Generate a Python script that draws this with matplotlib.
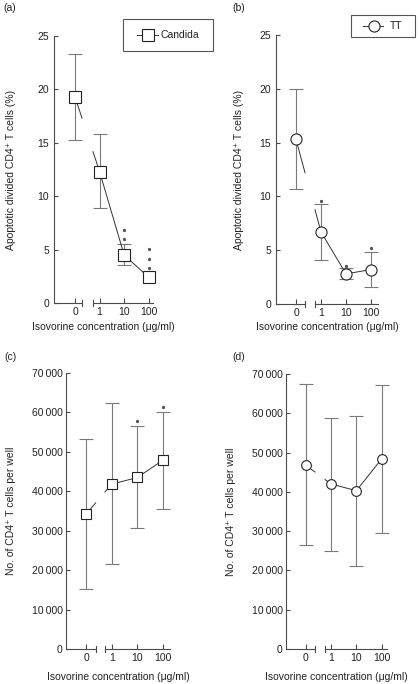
import numpy as np
import matplotlib
matplotlib.use("Agg")
import matplotlib.pyplot as plt
from matplotlib.lines import Line2D
from matplotlib.patches import Rectangle

plt.rcParams['font.family'] = ['Liberation Sans', 'DejaVu Sans']

W, H = 419, 684  # figure size in pixels

conc_labels = ['0', '1', '10', '100']
x_pos = np.arange(4)

# (a) apoptotic divided CD4+ T cells (%), Candida
candida_apop = [19.3, 12.3, 4.5, 2.4]
candida_apop_hi = [23.3, 15.8, 5.5, np.nan]
candida_apop_lo = [15.3, 8.9, 3.6, np.nan]
candida_apop_stars = [[], [], [6.8, 6.0], [5.1, 4.1, 3.3]]

# (b) apoptotic divided CD4+ T cells (%), TT
tt_apop = [15.3, 6.7, 2.8, 3.2]
tt_apop_hi = [20.0, 9.3, 3.3, 4.8]
tt_apop_lo = [10.7, 4.1, 2.3, 1.6]
tt_apop_stars = [[], [9.6], [3.5], [5.2]]

# (c) no. of CD4+ T cells per well, Candida
candida_count = [34200, 41800, 43500, 47900]
candida_count_hi = [53300, 62300, 56600, 60200]
candida_count_lo = [15300, 21600, 30800, 35400]
candida_count_stars = [[], [], [57800], [61400]]

# (d) no. of CD4+ T cells per well, TT
tt_count = [46800, 42000, 40300, 48400]
tt_count_hi = [67400, 58900, 59400, 67200]
tt_count_lo = [26400, 25000, 21100, 29600]
tt_count_stars = [[], [], [], []]

pct_ticks = [0, 5, 10, 15, 20, 25]
count_ticks = [0, 10000, 20000, 30000, 40000, 50000, 60000, 70000]

apop_label = 'Apoptotic divided CD4\u207a T cells (%)'
count_label = 'No. of CD4\u207a T cells per well'
x_label = 'Isovorine concentration (\u03bcg/ml)'

spine_col = '#4a4a4a'
err_col = '#7a7a7a'
txt_col = '#222222'
fs = 7.5

fig = plt.figure(figsize=(W / 100, H / 100), dpi=100)


def fx(x):
    return x / W


def fy(y):
    return 1 - y / H


def panel(geom, means, lo, hi, stars, marker, msize, yticks, ylabels, ylabel,
          ylab_px, xlab_px, ypad):
    spine_x, x0_px, x3_px, end_px, b0_px, b1_px, top_px, bot_px = geom
    sp = (x3_px - x0_px) / 3.0
    ax = fig.add_axes([fx(spine_x), fy(bot_px), (end_px - spine_x) / W,
                       (bot_px - top_px) / H])
    ax.set_xlim((spine_x - x0_px) / sp, (end_px - x0_px) / sp)
    ax.set_ylim(yticks[0], yticks[-1])
    brk0 = (b0_px - x0_px) / sp
    brk1 = (b1_px - x0_px) / sp

    for s in ['top', 'right', 'bottom']:
        ax.spines[s].set_visible(False)
    ax.spines['left'].set_color(spine_col)
    ax.spines['left'].set_linewidth(0.8)
    ax.patch.set_visible(False)

    # broken x axis
    tr = ax.get_xaxis_transform()
    xl = ax.get_xlim()
    ax.add_line(Line2D([xl[0], brk0], [0, 0], transform=tr, color=spine_col,
                       lw=0.8, clip_on=False))
    ax.add_line(Line2D([brk1, xl[1]], [0, 0], transform=tr, color=spine_col,
                       lw=0.8, clip_on=False))
    dy = 3.0 / (bot_px - top_px)
    for b in (brk0, brk1):
        ax.add_line(Line2D([b, b], [-dy, dy], transform=tr, color=spine_col,
                           lw=0.8, clip_on=False))

    ax.set_xticks(x_pos)
    ax.set_xticklabels(conc_labels)
    ax.set_yticks(yticks)
    ax.set_yticklabels(ylabels)
    ax.tick_params(axis='x', direction='in', length=3.5, width=0.8,
                   color=spine_col, labelsize=fs, labelcolor=txt_col, pad=3)
    ax.tick_params(axis='y', direction='in', length=3, width=0.8,
                   color=spine_col, labelsize=fs, labelcolor=txt_col, pad=ypad)

    means = np.array(means, dtype=float)
    lo = np.array(lo, dtype=float)
    hi = np.array(hi, dtype=float)
    ax.errorbar(x_pos, means, yerr=[means - lo, hi - means], fmt='none',
                ecolor=err_col, elinewidth=0.8, capsize=5, capthick=0.8,
                zorder=2, clip_on=False)

    # connecting line, interrupted at the axis break
    yb0 = np.interp(brk0, x_pos[:2], means[:2])
    yb1 = np.interp(brk1, x_pos[:2], means[:2])
    ax.plot([0, brk0], [means[0], yb0], color='#333333', lw=0.7, zorder=3)
    ax.plot([brk1, 1], [yb1, means[1]], color='#333333', lw=0.7, zorder=3)
    ax.plot(x_pos[1:], means[1:], color='#333333', lw=0.7, zorder=3)
    ax.plot(x_pos, means, ls='none', marker=marker, ms=msize, mfc='white',
            mec='#222222', mew=0.8, zorder=4, clip_on=False)

    for i, sy in enumerate(stars):
        if sy:
            ax.plot([i] * len(sy), sy, ls='none', marker=(6, 2, 0), ms=2.3,
                    mew=0.5, color='#555555', zorder=5, clip_on=False)

    ax.set_ylabel(ylabel, fontsize=fs, color=txt_col)
    ax.yaxis.set_label_coords((ylab_px - spine_x) / (end_px - spine_x), 0.5)
    ax.set_xlabel(x_label, fontsize=fs, color=txt_col)
    ax.xaxis.set_label_coords(0.5, -(xlab_px - bot_px) / (bot_px - top_px))
    return ax


pct_labels = [str(t) for t in pct_ticks]
count_labels = ['0'] + ['%d\u2009000' % (t // 1000) for t in count_ticks[1:]]

panel((54, 75, 148.7, 153, 82, 93, 36, 303), candida_apop, candida_apop_lo,
      candida_apop_hi, candida_apop_stars, 's', 8.2, pct_ticks, pct_labels,
      apop_label, 16, 322, 3.5)
panel((276, 296, 371, 378, 305, 315, 35, 304), tt_apop, tt_apop_lo,
      tt_apop_hi, tt_apop_stars, 'o', 8.0, pct_ticks, pct_labels,
      apop_label, 244, 322, 3.5)
panel((66, 86, 163, 170, 95.7, 105, 373, 649), candida_count, candida_count_lo,
      candida_count_hi, candida_count_stars, 's', 7.2, count_ticks,
      count_labels, count_label, 16, 672, 2.5)
panel((286, 305.7, 381.7, 386.7, 315, 325, 374, 649), tt_count, tt_count_lo,
      tt_count_hi, tt_count_stars, 'o', 7.0, count_ticks, count_labels,
      count_label, 236, 672, 2.5)

# panel letters
for letter, (lx, ly) in zip(['(a)', '(b)', '(c)', '(d)'],
                            [(3, 8), (232, 8), (4, 357), (232, 357)]):
    fig.text(fx(lx), fy(ly), letter, fontsize=fs, color=txt_col,
             ha='left', va='center')


# legends drawn as boxed keys
def key(box, line_px, mk_x, marker, text, text_x):
    x0, y0, x1, y1 = box
    yc = (y0 + y1) / 2
    fig.patches.append(Rectangle((fx(x0), fy(y1)), (x1 - x0) / W, (y1 - y0) / H,
                                 transform=fig.transFigure, fill=False,
                                 ec='#555555', lw=0.8))
    fig.lines.append(Line2D([fx(line_px[0]), fx(line_px[1])], [fy(yc), fy(yc)],
                            transform=fig.transFigure, color='#333333', lw=0.7))
    fig.lines.append(Line2D([fx(mk_x)], [fy(yc)], transform=fig.transFigure,
                            ls='none', marker=marker, ms=8.0, mfc='white',
                            mec='#222222', mew=0.8))
    fig.text(fx(text_x), fy(yc), text, fontsize=fs, color=txt_col,
             ha='left', va='center')


key((123, 19, 213, 51), (137, 158), 147.5, 's', 'Candida', 160)
key((351, 15, 415, 37), (363, 383), 374, 'o', 'TT', 390)

fig.savefig('out.png', dpi=100)
